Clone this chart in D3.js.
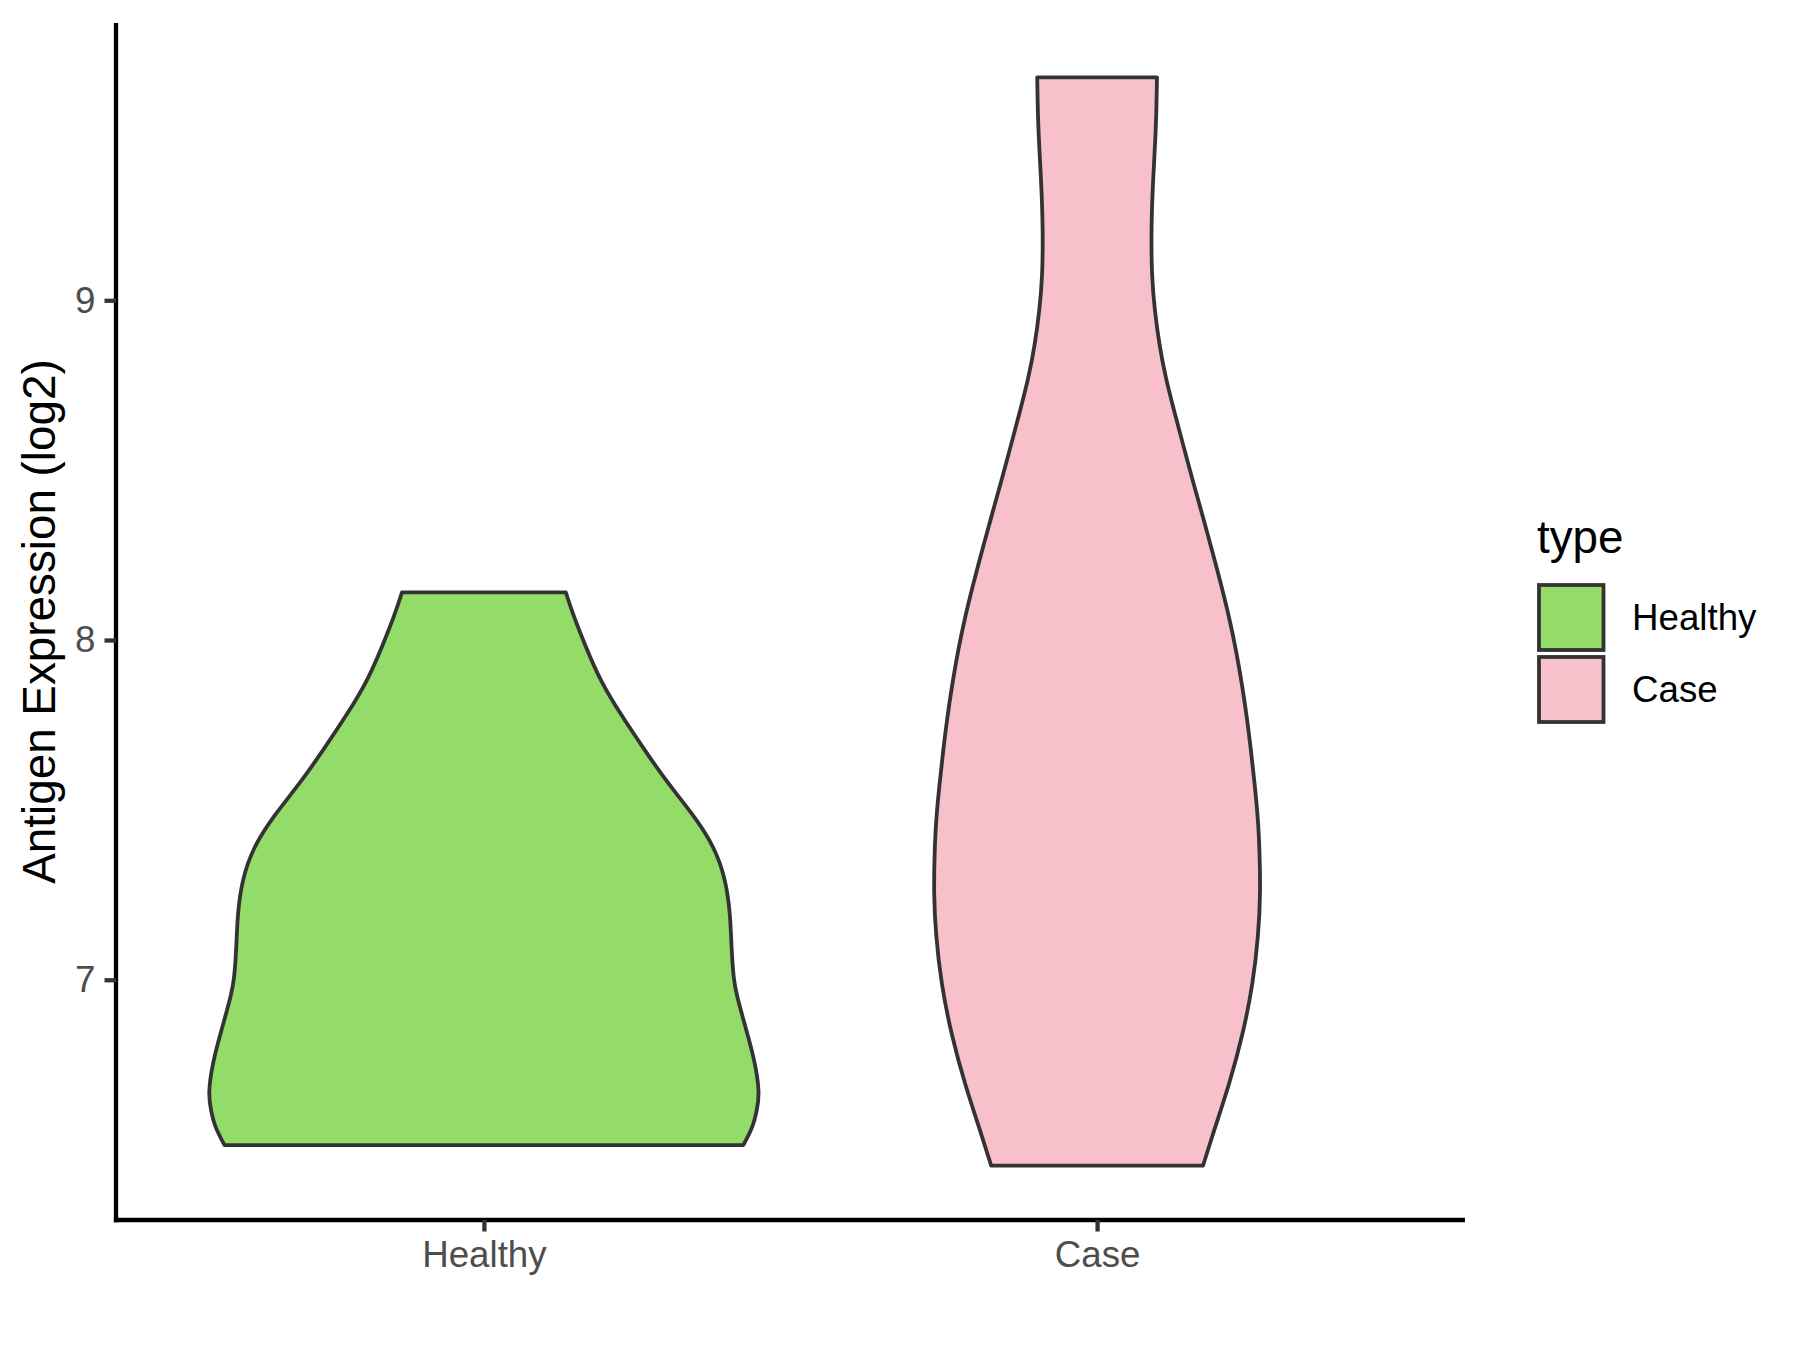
<!DOCTYPE html>
<html>
<head>
<meta charset="utf-8">
<script src="https://cdn.jsdelivr.net/npm/d3@7"></script>
<style>
  body { margin: 0; background: #ffffff; }
  text { font-family: "Liberation Sans", Arial, sans-serif; }
</style>
</head>
<body>
<div id="chart"></div>
<script>
// categories on the x axis
var categories = ['Healthy', 'Case'];

// violin outlines: expression value (log2) and relative density
var healthyExpr = [6.513, 6.566, 6.615, 6.664, 6.762, 6.860, 6.958, 7.000, 7.095, 7.193, 7.292, 7.390,
    7.488, 7.586, 7.684, 7.782, 7.880, 7.978, 8.077, 8.140];
var healthyDensity = [0.940, 0.975, 0.989, 1.000, 0.982, 0.948, 0.915, 0.905, 0.897, 0.893, 0.877, 0.837,
    0.757, 0.659, 0.576, 0.495, 0.422, 0.370, 0.322, 0.297];

var caseExpr = [6.453, 6.547, 6.694, 6.841, 6.988, 7.135, 7.253, 7.380, 7.478, 7.576, 7.674, 7.772,
    7.870, 7.969, 8.066, 8.165, 8.263, 8.361, 8.459, 8.577, 8.675, 8.773, 8.871, 8.969,
    9.067, 9.214, 9.361, 9.508, 9.656];
var caseDensity = [0.384, 0.420, 0.480, 0.529, 0.565, 0.585, 0.592, 0.589, 0.583, 0.571, 0.558, 0.543,
    0.525, 0.504, 0.479, 0.449, 0.417, 0.384, 0.350, 0.311, 0.279, 0.248, 0.225, 0.209,
    0.198, 0.196, 0.203, 0.214, 0.217];

// y tick labels
var yTicks = [7, 8, 9];

var violins = [
    { type: 'Healthy', points: d3.zip(healthyExpr, healthyDensity) },
    { type: 'Case', points: d3.zip(caseExpr, caseDensity) }
];

// size and panel position
var width = 1800;
var height = 1350;
var panel = { left: 116, right: 1465, top: 23, bottom: 1220 };

var svg = d3.select('#chart').append('svg')
    .attr('width', width)
    .attr('height', height);

// x scale (discrete, like ggplot with 0.6 expansion)
var x = d3.scalePoint()
    .domain(categories)
    .range([panel.left, panel.right])
    .padding(0.6);

// y scale with 5% expansion around the data
var allExpr = healthyExpr.concat(caseExpr);
var yMin = d3.min(allExpr), yMax = d3.max(allExpr);
var pad = (yMax - yMin) * 0.05;
var y = d3.scaleLinear()
    .domain([yMin - pad, yMax + pad])
    .range([panel.bottom, panel.top]);

// half width of violin from density
var w = d3.scaleLinear()
    .domain([0, d3.max(healthyDensity.concat(caseDensity))])
    .range([0, x.step() * 0.45]);

var color = d3.scaleOrdinal()
    .domain(categories)
    .range(['#93DC6A', '#F7C0CB']);

// violins
var area = d3.area()
    .curve(d3.curveBasis)
    .y(d => y(d[0]));

svg.append('g')
    .selectAll('path')
    .data(violins)
    .enter().append('path')
    .attr('d', v => area
        .x0(d => x(v.type) - w(d[1]))
        .x1(d => x(v.type) + w(d[1]))(v.points))
    .attr('fill', v => color(v.type))
    .attr('stroke', '#333333')
    .attr('stroke-width', 3.8)
    .attr('stroke-linejoin', 'round');

// y axis
var yAxis = svg.append('g')
    .attr('transform', 'translate(' + panel.left + ',0)')
    .call(d3.axisLeft(y).tickValues(yTicks).tickSize(11.5).tickSizeOuter(0).tickPadding(9)
        .tickFormat(d3.format('d')));

// x axis
var xAxis = svg.append('g')
    .attr('transform', 'translate(0,' + panel.bottom + ')')
    .call(d3.axisBottom(x).tickSize(11.5).tickSizeOuter(0).tickPadding(9));

[xAxis, yAxis].forEach(function (g) {
    g.select('.domain').attr('stroke', '#000000').attr('stroke-width', 4.3);
    g.selectAll('.tick line').attr('stroke', '#333333').attr('stroke-width', 4.3);
    g.selectAll('.tick text')
        .attr('fill', '#4D4D4D')
        .style('font-size', '36.7px')
        .style('font-family', '"Liberation Sans", Arial, sans-serif');
});
// make the two axis lines meet in the corner
yAxis.select('.domain').attr('d', 'M0,' + (panel.top) + 'V' + (panel.bottom + 2.15));
xAxis.select('.domain').attr('d', 'M' + (panel.left - 2.15) + ',0H' + panel.right);

// y axis title
svg.append('text')
    .attr('transform', 'translate(55,' + ((panel.top + panel.bottom) / 2) + ') rotate(-90)')
    .attr('text-anchor', 'middle')
    .style('font-size', '45.8px')
    .attr('fill', '#000000')
    .text('Antigen Expression (log2)');

// legend
var legend = svg.append('g')
    .attr('transform', 'translate(1537,553)');

legend.append('text')
    .attr('x', 0)
    .attr('y', 0)
    .style('font-size', '45.8px')
    .attr('fill', '#000000')
    .text('type');

var keys = legend.selectAll('.key')
    .data(categories)
    .enter().append('g')
    .attr('class', 'key')
    .attr('transform', (d, i) => 'translate(0,' + (30 + i * 72) + ')');

keys.append('rect')
    .attr('x', 2)
    .attr('y', 2)
    .attr('width', 64.5)
    .attr('height', 65)
    .attr('fill', d => color(d))
    .attr('stroke', '#333333')
    .attr('stroke-width', 3.8);

keys.append('text')
    .attr('x', 95)
    .attr('y', 34.5)
    .attr('dy', '0.35em')
    .style('font-size', '36.7px')
    .attr('fill', '#000000')
    .text(d => d);
</script>
</body>
</html>
